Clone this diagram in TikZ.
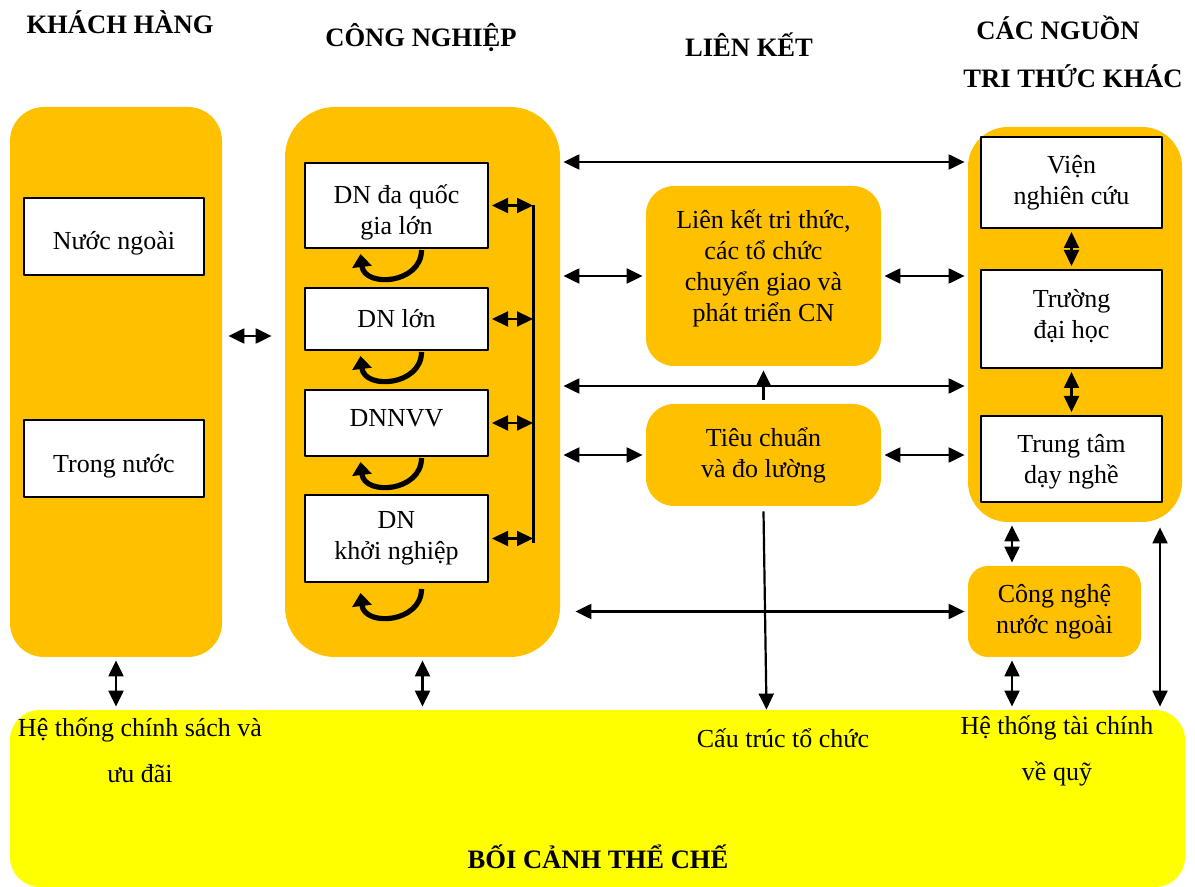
\documentclass[tikz,border=0pt]{standalone}
\usepackage{fontspec}
\setmainfont{Liberation Serif}
\usetikzlibrary{arrows.meta}
\definecolor{cam}{HTML}{FFC000}
\definecolor{vang}{HTML}{FFFF00}
\newcommand{\dich}[2]{\raisebox{#1}[\height][\depth]{\begin{tabular}{@{}c@{}}#2\end{tabular}}}
\tikzset{
 cot/.style={fill=cam,rounded corners=#1,inner sep=0pt},
 hop/.style={draw,fill=white,line width=1pt,align=center,inner sep=0pt},
 khoi/.style={fill=cam,rounded corners=14pt,align=center,inner sep=0pt},
 tieude/.style={font=\fontsize{13.3}{15}\selectfont\bfseries},
 hai/.style={{Triangle[length=8pt,width=7.5pt]}-{Triangle[length=8pt,width=7.5pt]},line width=1.1pt,shorten <=1.5pt,shorten >=1.5pt},
 mot/.style={-{Triangle[length=8pt,width=7.5pt]},line width=1.1pt},
 vong/.style={-{Triangle[length=6.5pt,width=9.5pt]},line width=2.6pt},
}
\begin{document}
\begin{tikzpicture}[x=0.5pt,y=-0.5pt,font=\fontsize{13}{15.5}\selectfont,line join=round]
 \useasboundingbox (0,0) rectangle (1195,887);
 \node[tieude] (t1) at (120,22) {KHÁCH HÀNG};
 \node[tieude] (t2) at (421,38) {CÔNG NGHIỆP};
 \node[tieude] (t3) at (749,45) {LIÊN KẾT};
 \node[tieude] (t4) at (1058,28) {CÁC NGUỒN};
 \node[tieude] (t5) at (1073,76) {TRI THỨC KHÁC};

 \node[cot=17pt,minimum width=106pt,minimum height=275pt] (kh) at (116,382) {};
 \node[hop,minimum width=90pt,minimum height=38.5pt] (nn) at (114,236.5) {\dich{-3.5pt}{Nước ngoài}};
 \node[hop,minimum width=90pt,minimum height=38.5pt] (tn) at (114,458.5) {\dich{-4pt}{Trong nước}};

 \node[cot=25pt,minimum width=137.5pt,minimum height=275pt] (cn) at (422.5,382) {};
 \node[hop,minimum width=91.5pt,minimum height=42.5pt] (dn1) at (396.5,205.5) {\dich{-3.5pt}{DN đa quốc\\gia lớn}};
 \node[hop,minimum width=91.5pt,minimum height=31pt] (dn2) at (396.5,319) {DN lớn};
 \node[hop,minimum width=91.5pt,minimum height=33pt] (dn3) at (396.5,423) {\dich{1.5pt}{DNNVV}};
 \node[hop,minimum width=91.5pt,minimum height=43.5pt] (dn4) at (396.5,538.5) {DN\\khởi nghiệp};
 \coordinate (bus1) at (533,205);
 \coordinate (bus2) at (533,543);
 \draw[line width=1.5pt] (bus1) -- (bus2);
 \foreach \n in {dn1,dn2,dn3,dn4} \draw[hai,shorten >=0pt] (\n.east) -- (\n.east -| bus1);
 \foreach \n in {dn1,dn2,dn3} \draw[vong] ([xshift=12.5pt,yshift=-0.5pt]\n.south) .. controls +(0,-17pt) and +(2pt,-17pt) .. ([xshift=-18pt,yshift=-2.5pt]\n.south);
 \draw[vong] ([xshift=12.5pt,yshift=-3pt]dn4.south) .. controls +(0,-17pt) and +(2pt,-17pt) .. ([xshift=-18pt,yshift=-5pt]dn4.south);

 \node[khoi,minimum width=117.5pt,minimum height=90pt] (lk) at (763.5,276) {\dich{3.5pt}{Liên kết tri thức,\\các tổ chức\\chuyển giao và\\phát triển CN}};
 \node[khoi,minimum width=117.5pt,minimum height=51pt] (tc) at (763.5,455) {Tiêu chuẩn\\và đo lường};

 \node[cot=20pt,minimum width=107pt,minimum height=197.5pt] (tt) at (1075,324.5) {};
 \node[hop,minimum width=90.5pt,minimum height=45.5pt] (vien) at (1071.5,182.5) {Viện\\nghiên cứu};
 \node[hop,minimum width=90.5pt,minimum height=49pt] (dh) at (1071.5,319) {\dich{1pt}{Trường\\đại học}};
 \node[hop,minimum width=90.5pt,minimum height=43pt] (dn) at (1071.5,459) {\dich{-1.5pt}{Trung tâm\\dạy nghề}};
 \node[khoi,rounded corners=10pt,minimum width=86.5pt,minimum height=45.5pt] (cnnn) at (1054.5,611.5) {Công nghệ\\nước ngoài};

 \node[cot=15pt,fill=vang,minimum width=587.5pt,minimum height=88.5pt] (bc) at (597.5,798.5) {};
 \node[align=center,font=\fontsize{13}{23}\selectfont] (cs) at (140,750) {Hệ thống chính sách và\\ưu đãi};
 \node (ct) at (783,738) {Cấu trúc tổ chức};
 \node[align=center,font=\fontsize{13}{23}\selectfont] (tcq) at (1057,751) {Hệ thống tài chính\\về quỹ};
 \node[tieude] (bcnd) at (598,857) {BỐI CẢNH THỂ CHẾ};

 \coordinate (h0) at (0,336);
 \coordinate (h1) at (0,162);
 \coordinate (h2) at (0,386);
 \coordinate (r1) at (1012,0);
 \coordinate (r2) at (1160,0);
 \draw[hai,shorten <=3pt,shorten >=6.5pt] (kh.east |- h0) -- (cn.west |- h0);
 \draw[hai] (cn.east |- h1) -- (tt.west |- h1);
 \draw[hai] (cn.east |- lk.west) -- (lk.west);
 \draw[hai] (lk.east) -- (lk.east -| tt.west);
 \draw[hai] (cn.east |- h2) -- (tt.west |- h2);
 \draw[hai] (cn.east |- tc.west) -- (tc.west);
 \draw[hai] (tc.east) -- (tc.east -| tt.west);
 \draw[hai,shorten <=7.5pt] (cn.east |- cnnn.west) -- (cnnn.west);
 \draw[mot,shorten <=2pt,shorten >=2pt] (tc.north) -- (lk.south);
 \draw[mot] ([yshift=-2.5pt]tc.south) -- ([xshift=1.5pt]tc.south |- bc.north);
 \draw[hai] (kh.south) -- (kh.south |- bc.north);
 \draw[hai] (cn.south) -- (cn.south |- bc.north);
 \draw[hai] (vien.south) -- (dh.north);
 \draw[hai] (dh.south) -- (dn.north);
 \draw[hai] (tt.south -| r1) -- (cnnn.north -| r1);
 \draw[hai] (cnnn.south -| r1) -- (bc.north -| r1);
 \draw[hai,shorten <=2.5pt] (tt.south -| r2) -- (bc.north -| r2);
\end{tikzpicture}
\end{document}
